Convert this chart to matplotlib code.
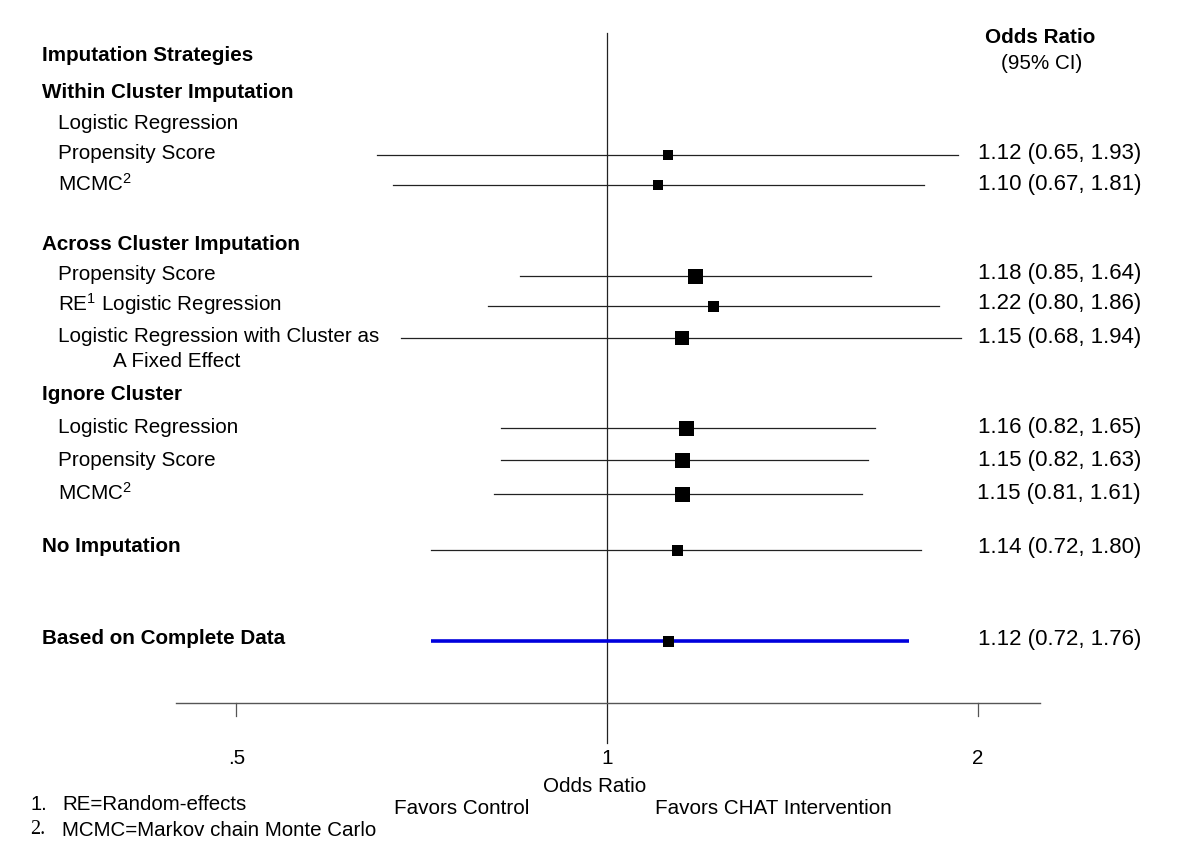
import numpy as np
import matplotlib
matplotlib.use("Agg")
import matplotlib.pyplot as plt

plt.rcParams['font.family'] = ['Liberation Sans', 'DejaVu Sans']
plt.rcParams['mathtext.fontset'] = 'custom'
plt.rcParams['mathtext.rm'] = 'Liberation Sans'
plt.rcParams['mathtext.it'] = 'Liberation Sans:italic'
plt.rcParams['mathtext.bf'] = 'Liberation Sans:bold'

# ---- data ----
labels = ["Propensity Score", "MCMC$^{\\mathrm{2}}$",
          "Propensity Score", "RE$^{\\mathrm{1}}$ Logistic Regression",
          "Logistic Regression with Cluster as\n       A Fixed Effect",
          "Logistic Regression", "Propensity Score", "MCMC$^{\\mathrm{2}}$",
          "No Imputation", "Based on Complete Data"]
odds = [1.12, 1.10, 1.18, 1.22, 1.15, 1.16, 1.15, 1.15, 1.14, 1.12]
lower = [0.65, 0.67, 0.85, 0.80, 0.68, 0.82, 0.82, 0.81, 0.72, 0.72]
upper = [1.93, 1.81, 1.64, 1.86, 1.94, 1.65, 1.63, 1.61, 1.80, 1.76]
weights = [10, 10, 15, 11, 14, 15, 15, 15, 11, 11]   # marker size (px)
headers = ["Imputation Strategies", "Within Cluster Imputation",
           "Across Cluster Imputation", "Ignore Cluster"]
xticks = [0.5, 1, 2]
xticklabels = [".5", "1", "2"]

# ---- layout (pixel rows) ----
row_y = [155, 185, 276, 306, 338, 428, 460, 494, 550, 641]
label_y = [153, 184, 274, 304, 337, 427, 460, 493, 547, 639]
bold_rows = [8, 9]
header_y = [55, 92, 244, 394]
extra_label = ("Logistic Regression", 123)

W, H = 1200, 856
fig = plt.figure(figsize=(W / 100, H / 100), dpi=100)
ax = fig.add_axes([0, 0, 1, 1])
ax.set_xscale('log', base=2)
x1px, ppd = 607.0, 370.5
ax.set_xlim(2 ** ((0 - x1px) / ppd), 2 ** ((W - x1px) / ppd))
ax.set_ylim(H, 0)
ax.axis('off')

blend = matplotlib.transforms.blended_transform_factory(ax.transAxes, ax.transData)

def px_text(x, y, s, **kw):
    ax.text(x / W, y, s, transform=blend, **kw)

fs = 14.9
for h, y in zip(headers, header_y):
    px_text(42, y, h, fontsize=fs, fontweight='bold', va='center', ha='left')
px_text(58, extra_label[1], extra_label[0], fontsize=fs, va='center', ha='left')

for i, (lab, y) in enumerate(zip(labels, label_y)):
    if i in bold_rows:
        px_text(42, y, lab, fontsize=fs, fontweight='bold', va='center', ha='left')
    elif "\n" in lab:
        first, second = lab.split("\n")
        px_text(58, y, first, fontsize=fs, va='center', ha='left')
        px_text(113, y + 24, second.strip(), fontsize=fs, va='center', ha='left')
    else:
        px_text(58, y, lab, fontsize=fs, va='center', ha='left')

# right column
px_text(1040, 37, "Odds Ratio", fontsize=fs, fontweight='bold', va='center', ha='center')
px_text(1042, 63, "(95% CI)", fontsize=fs, va='center', ha='center')
for o, lo, up, y in zip(odds, lower, upper, label_y):
    px_text(1141, y, f"{o:.2f} ({lo:.2f}, {up:.2f})", fontsize=16.0, va='center', ha='right')

# CI lines and markers
for i, (o, lo, up, y, w) in enumerate(zip(odds, lower, upper, row_y, weights)):
    if i == len(odds) - 1:
        ax.plot([lo, up], [y, y], color='#0000dd', lw=2.6, solid_capstyle='butt', zorder=2)
    else:
        ax.plot([lo, up], [y, y], color='#222222', lw=0.9, zorder=2)
    ax.plot([o], [y], marker='s', ms=w * 0.72, color='black', mec='black', mew=0, zorder=3)

# reference line at 1
ax.plot([1, 1], [33, 743], color='#222222', lw=0.9, zorder=1)
# x axis
ax.plot([2 ** ((176 - x1px) / ppd), 2 ** ((1040 - x1px) / ppd)], [703, 703],
        color='#555555', lw=1.0, zorder=1)
for t, tl in zip(xticks, xticklabels):
    if t != 1:
        ax.plot([t, t], [703, 716], color='#555555', lw=0.9)
    ax.text(t, 758, tl, fontsize=fs, ha='center', va='center')

px_text(595, 786, "Odds Ratio", fontsize=fs, ha='center', va='center')
px_text(462, 808, "Favors Control", fontsize=fs, ha='center', va='center')
px_text(773, 808, "Favors CHAT Intervention", fontsize=fs, ha='center', va='center')

# footnotes
px_text(30, 805, "1.", fontsize=14.5, ha='left', va='center')
px_text(62, 805, "RE=Random-effects", fontsize=14.8, ha='left', va='center')
px_text(30, 830, "2.", fontsize=14.5, ha='left', va='center', family='Liberation Serif')
px_text(62, 830, "MCMC=Markov chain Monte Carlo", fontsize=14.8, ha='left', va='center')

fig.savefig("out.png", dpi=100)
